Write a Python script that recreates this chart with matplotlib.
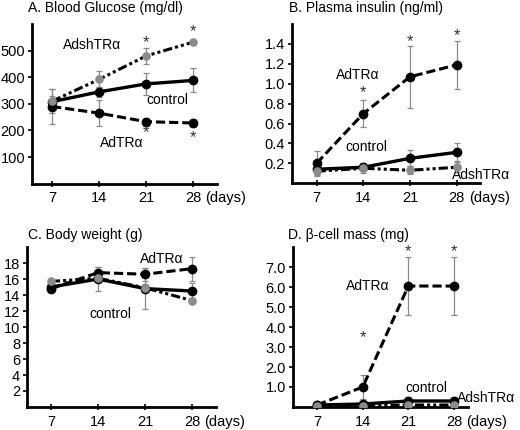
import matplotlib
matplotlib.use('Agg')
from matplotlib import pyplot as plt

plt.rcParams['font.family'] = ['Liberation Sans', 'DejaVu Sans']
plt.rcParams['font.size'] = 10

days = [7, 14, 21, 28]
day_labels = ['7', '14', '21', '28']

# A. blood glucose
glu_ctrl = [308, 345, 375, 388]
glu_ctrl_err = [20, 20, 40, 45]
glu_ad = [290, 265, 233, 228]
glu_ad_err = [65, 50, 15, 15]
glu_sh = [310, 392, 480, 532]
glu_sh_err = [45, 30, 30, 8]
glu_stars = [(21, 529), (28, 570), (21, 190), (28, 172)]

# B. plasma insulin
ins_ctrl = [0.14, 0.16, 0.25, 0.31]
ins_ctrl_err = [0.05, 0.04, 0.08, 0.09]
ins_ad = [0.20, 0.70, 1.07, 1.19]
ins_ad_err = [0.12, 0.14, 0.31, 0.24]
ins_sh = [0.12, 0.15, 0.13, 0.16]
ins_sh_err = [0.05, 0.05, 0.04, 0.05]
ins_stars = [(14, 0.91), (21, 1.42), (28, 1.48)]

# C. body weight
bw_ctrl = [15.0, 16.0, 14.8, 14.5]
bw_ctrl_err = [0.3, 1.5, 2.6, 1.0]
bw_ad = [14.8, 16.8, 16.6, 17.3]
bw_ad_err = [0.3, 0.7, 0.8, 1.5]
bw_sh = [15.7, 16.1, 14.9, 13.3]
bw_sh_err = [0.2, 0.3, 0.5, 0.3]

# D. beta-cell mass
bc_ctrl = [0.1, 0.15, 0.3, 0.3]
bc_ctrl_err = [0.05, 0.05, 0.2, 0.2]
bc_ad = [0.1, 1.0, 6.05, 6.05]
bc_ad_err = [0.05, 0.6, 1.45, 1.45]
bc_sh = [0.05, 0.05, 0.1, 0.1]
bc_sh_err = [0.03, 0.03, 0.05, 0.05]
bc_stars = [(14, 3.45), (21, 7.75), (28, 7.75)]

fig = plt.figure(figsize=(5.2, 4.3), dpi=100)

dash_ad = (0, (3, 1.3))
dash_sh = (0, (3, 1, 1, 1, 1, 1))


def panel(rect, xlim, ylim, yticks, ytl, ctrl, ctrl_err, ad, ad_err, sh, sh_err, stars):
    ax = fig.add_axes(rect)
    ekw = dict(fmt='none', ecolor='#8a8a8a', elinewidth=0.9, capsize=2, capthick=0.9, zorder=2.5)
    # lines
    ax.plot(days, sh, color='black', lw=2.2, ls=dash_sh, zorder=2)
    ax.plot(days, ad, color='black', lw=2.2, ls=dash_ad, zorder=2)
    ax.plot(days, ctrl, color='black', lw=2.4, zorder=2)
    # error bars
    ax.errorbar(days, sh, yerr=sh_err, **ekw)
    ax.errorbar(days, ad, yerr=ad_err, **ekw)
    ax.errorbar(days, ctrl, yerr=ctrl_err, **ekw)
    # markers
    ax.plot(days, ad, ls='none', marker='o', ms=6, color='black', zorder=3)
    ax.plot(days, ctrl, ls='none', marker='o', ms=6, color='black', zorder=3)
    ax.plot(days, sh, ls='none', marker='o', ms=5.2, color='#8c8c8c', zorder=3.5)
    for x, y in stars:
        ax.text(x, y, '*', ha='center', va='center', fontsize=12, color='#333333')
    ax.set_xlim(*xlim)
    ax.set_ylim(*ylim)
    ax.set_xticks(days)
    ax.set_xticklabels(day_labels)
    ax.set_yticks(yticks)
    ax.set_yticklabels(ytl)
    for s in ['top', 'right']:
        ax.spines[s].set_visible(False)
    for s in ['left', 'bottom']:
        ax.spines[s].set_linewidth(2)
    ax.tick_params(axis='x', direction='inout', length=5, width=1.2, pad=3, labelsize=10.5)
    ax.tick_params(axis='y', direction='out', length=3, width=1.2, pad=2, labelsize=10.5)
    return ax


def add_days(ax):
    fig.canvas.draw()
    lab = ax.get_xticklabels()[-1]
    ax.annotate('(days)', xy=(1, 0), xycoords=lab, xytext=(3, 0),
                textcoords='offset points', ha='left', va='bottom', fontsize=10.5)


axA = panel([0.0615, 0.573, 0.356, 0.371], (4.0, 31.6), (0, 600),
            [100, 200, 300, 400, 500], ['100', '200', '300', '400', '500'],
            glu_ctrl, glu_ctrl_err, glu_ad, glu_ad_err, glu_sh, glu_sh_err, glu_stars)
axA.text(13.0, 523, 'AdshTRα', ha='center', va='center', fontsize=10)
axA.text(24.2, 314, 'control', ha='center', va='center', fontsize=10)
axA.text(17.4, 152, 'AdTRα', ha='center', va='center', fontsize=10)

axB = panel([0.5615, 0.574, 0.3615, 0.370], (3.3, 31.5), (0, 1.6),
            [0.2, 0.4, 0.6, 0.8, 1.0, 1.2, 1.4], ['0.2', '0.4', '0.6', '0.8', '1.0', '1.2', '1.4'],
            ins_ctrl, ins_ctrl_err, ins_ad, ins_ad_err, ins_sh, ins_sh_err, ins_stars)
axB.text(13.1, 1.09, 'AdTRα', ha='center', va='center', fontsize=10)
axB.text(14.5, 0.36, 'control', ha='center', va='center', fontsize=10)
axB.text(31.7, 0.08, 'AdshTRα', ha='center', va='center', fontsize=10, clip_on=False)

axC = panel([0.052, 0.0535, 0.363, 0.372], (3.45, 31.5), (0, 20),
            [2, 4, 6, 8, 10, 12, 14, 16, 18], ['2', '4', '6', '8', '10', '12', '14', '16', '18'],
            bw_ctrl, bw_ctrl_err, bw_ad, bw_ad_err, bw_sh, bw_sh_err, [])
axC.text(23.4, 18.5, 'AdTRα', ha='center', va='center', fontsize=10)
axC.text(15.9, 11.6, 'control', ha='center', va='center', fontsize=10)

axD = panel([0.5635, 0.0535, 0.337, 0.372], (3.3, 30.2), (0, 8),
            [1, 2, 3, 4, 5, 6, 7], ['1.0', '2.0', '3.0', '4.0', '5.0', '6.0', '7.0'],
            bc_ctrl, bc_ctrl_err, bc_ad, bc_ad_err, bc_sh, bc_sh_err, bc_stars)
axD.text(14.7, 6.05, 'AdTRα', ha='center', va='center', fontsize=10)
axD.text(23.8, 0.95, 'control', ha='center', va='center', fontsize=10)
axD.text(33.0, 0.45, 'AdshTRα', ha='center', va='center', fontsize=10, clip_on=False)

for ax in [axA, axB, axC, axD]:
    add_days(ax)

fig.text(28 / 520, 1 - 8 / 430, 'A. Blood Glucose (mg/dl)', ha='left', va='center', fontsize=10)
fig.text(289 / 520, 1 - 8 / 430, 'B. Plasma insulin (ng/ml)', ha='left', va='center', fontsize=10)
fig.text(28 / 520, 1 - 235 / 430, 'C. Body weight (g)', ha='left', va='center', fontsize=10)
fig.text(288 / 520, 1 - 235 / 430, 'D. β-cell mass (mg)', ha='left', va='center', fontsize=10)

fig.savefig('out.png', dpi=100)
